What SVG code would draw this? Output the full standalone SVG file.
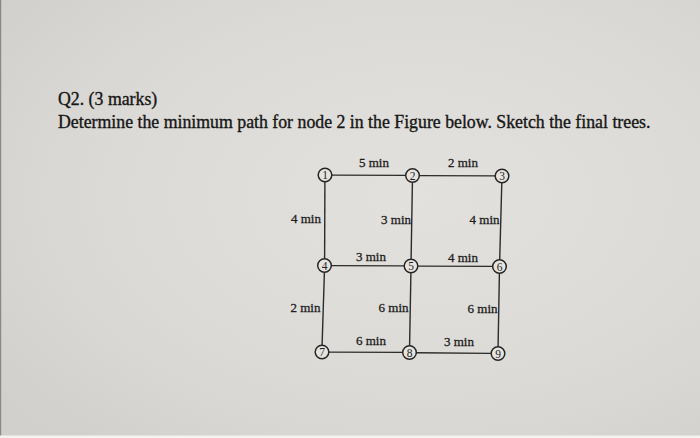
<svg xmlns="http://www.w3.org/2000/svg" width="700" height="438" viewBox="0 0 700 438">
<defs>
<radialGradient id="bg" cx="0.6" cy="0.45" r="0.75">
<stop offset="0" stop-color="#e3e1dd"/>
<stop offset="0.6" stop-color="#dcdad6"/>
<stop offset="1" stop-color="#d2d0cc"/>
</radialGradient>
<style>
.title{font-family:"Liberation Serif","Times New Roman",serif;font-size:17.8px;fill:#161616;stroke:#161616;stroke-width:0.35}
.lbl{font-family:"Liberation Serif","Times New Roman",serif;font-size:13px;fill:#1e1e1e;stroke:#1e1e1e;stroke-width:0.3}
.edge{stroke:#2b2b2b;stroke-width:1.4;fill:none}
.node circle{fill:#e6e4e0;stroke:#262626;stroke-width:1.5}
.node text{font-family:"Liberation Serif","Times New Roman",serif;font-size:11.5px;fill:#1e1e1e;text-anchor:middle}
</style>
</defs>
<rect width="700" height="438" fill="url(#bg)"/>
<rect x="0" y="0" width="1.2" height="438" fill="#8a8885"/>
<rect x="0" y="435.5" width="700" height="2.5" fill="#f4f3f1"/>
<text class="title" x="58" y="105">Q2. (3 marks)</text>
<text class="title" x="58" y="127.5">Determine the minimum path for node 2 in the Figure below. Sketch the final trees.</text>
<g id="connectors">
<line class="edge" x1="331.7" y1="175.1" x2="405.8" y2="175.4"/>
<line class="edge" x1="419.2" y1="175.6" x2="495.3" y2="175.9"/>
<line class="edge" x1="324.9" y1="181.7" x2="324.6" y2="258.8"/>
<line class="edge" x1="412.4" y1="182.2" x2="411.1" y2="259.3"/>
<line class="edge" x1="501.8" y1="182.7" x2="499.7" y2="259.8"/>
<line class="edge" x1="331.2" y1="265.6" x2="404.3" y2="265.9"/>
<line class="edge" x1="417.7" y1="266.1" x2="492.8" y2="266.4"/>
<line class="edge" x1="324.4" y1="272.2" x2="322.1" y2="345.3"/>
<line class="edge" x1="410.9" y1="272.7" x2="409.6" y2="345.8"/>
<line class="edge" x1="499.4" y1="273.2" x2="498.1" y2="346.8"/>
<line class="edge" x1="328.7" y1="352.1" x2="402.8" y2="352.4"/>
<line class="edge" x1="416.2" y1="352.7" x2="491.3" y2="353.4"/>
<g id="edge-labels">
<text class="lbl" x="359" y="167">5 min</text>
<text class="lbl" x="448" y="167">2 min</text>
<text class="lbl" x="291" y="223">4 min</text>
<text class="lbl" x="411" y="224" text-anchor="end">3 min</text>
<text class="lbl" x="499.5" y="224" text-anchor="end">4 min</text>
<text class="lbl" x="356" y="261">3 min</text>
<text class="lbl" x="448" y="261.5">4 min</text>
<text class="lbl" x="290.5" y="312">2 min</text>
<text class="lbl" x="408.5" y="312" text-anchor="end">6 min</text>
<text class="lbl" x="497.5" y="312.5" text-anchor="end">6 min</text>
<text class="lbl" x="356" y="345">6 min</text>
<text class="lbl" x="444" y="346">3 min</text>
</g>
</g>
<g id="node1" class="node"><circle cx="325" cy="175" r="6.8"/><text x="325" y="179">1</text></g>
<g id="node2" class="node"><circle cx="412.5" cy="175.5" r="6.8"/><text x="412.5" y="179.5">2</text></g>
<g id="node3" class="node"><circle cx="502" cy="176" r="6.8"/><text x="502" y="180">3</text></g>
<g id="node4" class="node"><circle cx="324.5" cy="265.5" r="6.8"/><text x="324.5" y="269.5">4</text></g>
<g id="node5" class="node"><circle cx="411" cy="266" r="6.8"/><text x="411" y="270">5</text></g>
<g id="node6" class="node"><circle cx="499.5" cy="266.5" r="6.8"/><text x="499.5" y="270.5">6</text></g>
<g id="node7" class="node"><circle cx="322" cy="352" r="6.8"/><text x="322" y="356">7</text></g>
<g id="node8" class="node"><circle cx="409.5" cy="352.5" r="6.8"/><text x="409.5" y="356.5">8</text></g>
<g id="node9" class="node"><circle cx="498" cy="353.5" r="6.8"/><text x="498" y="357.5">9</text></g>
</svg>
